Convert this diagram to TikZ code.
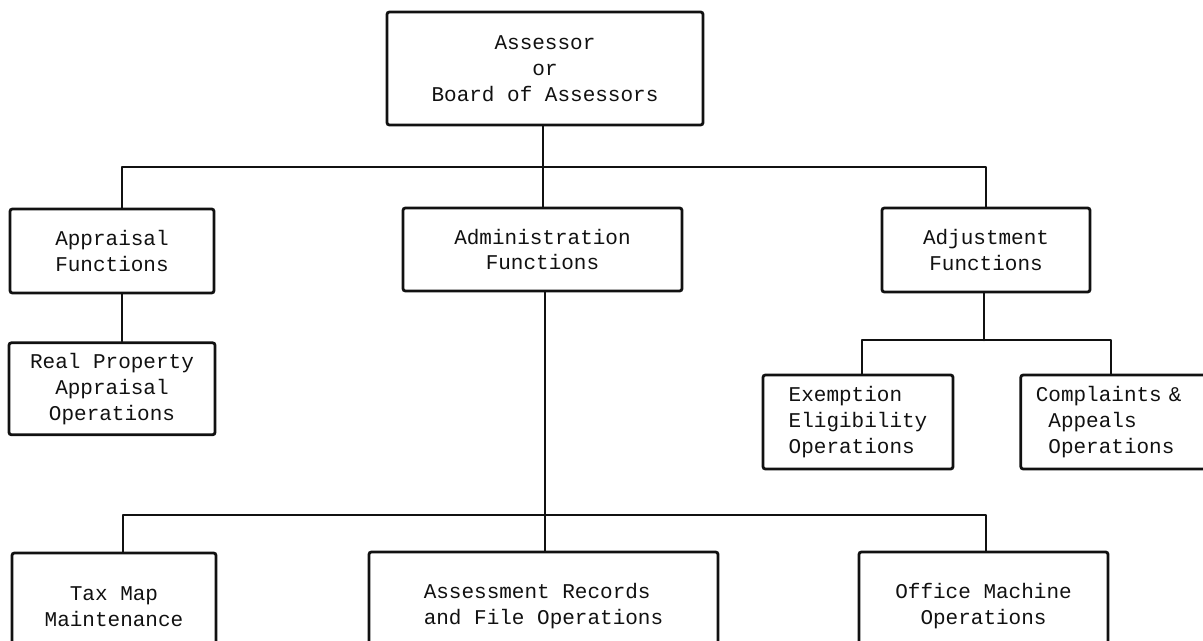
\documentclass[tikz,border=0pt]{standalone}
\usepackage{fontspec}
\usepackage{tikz}
\usetikzlibrary{positioning}
\newfontfamily\chartmono{Liberation Mono}
\definecolor{ChartInk}{HTML}{111111}
\tikzset{
  link/.style={line width=1.3pt,draw=ChartInk,line cap=round,line join=round},
  unitbox/.style={draw=ChartInk,line width=1.4pt,rounded corners=1.2pt,
    align=center,inner sep=0pt,text=ChartInk,
    font={\chartmono\fontsize{10.5}{12.9}\selectfont}}
}
\begin{document}
\begin{tikzpicture}[x=0.5pt,y=-0.5pt,node distance=10pt]
  \useasboundingbox (0,0) rectangle (1203,641);

  \node[unitbox,minimum width=158pt,minimum height=56.5pt] (board) at (545,68.5) {Assessor\\or\\Board of Assessors};

  \node[unitbox,minimum width=102pt,minimum height=42pt] (apprais) at (112,251) {Appraisal\\Functions};
  \node[unitbox,minimum width=139.5pt,minimum height=41.5pt] (admin) at (542.5,249.5) {Administration\\Functions};
  \node[unitbox,minimum width=104pt,minimum height=42pt] (adjust) at (986,250) {Adjustment\\Functions};

  \node[unitbox,minimum width=103pt,minimum height=46pt,below=23.5pt of apprais] (realprop) {Real Property\\Appraisal\\Operations};
  \node[unitbox,minimum width=95pt,minimum height=47pt,align=left] (exempt) at (858,422) {Exemption\\Eligibility\\Operations};
  \node[unitbox,minimum width=130pt,minimum height=47pt,text width=115pt,align=left,right=32.5pt of exempt] (complain) {Complaints \&\\\hspace*{0.6em}Appeals\\\hspace*{0.6em}Operations};

  \node[unitbox,minimum width=102pt,minimum height=53.5pt] (taxmap) at (114,606.5) {Tax Map\\Maintenance};
  \node[unitbox,minimum width=174.5pt,minimum height=54pt,align=left] (records) at (543.5,606) {Assessment Records\\and File Operations};
  \node[unitbox,minimum width=124.5pt,minimum height=54pt] (office) at (983.5,606) {Office Machine\\Operations};

  % bus lines
  \coordinate (topbus) at (543,167);
  \coordinate (adjbus) at (984,340);
  \coordinate (adminbus) at (545,515);

  \draw[link] (board.south -| topbus) -- (topbus) -- (topbus |- admin.north);
  \draw[link] ([xshift=5pt]apprais.north) |- (topbus) -| (adjust.north);
  \draw[link] ([xshift=5pt]apprais.south) -- ([xshift=5pt]apprais.south |- realprop.north);

  \draw[link] (adjust.south -| adjbus) -- (adjbus);
  \draw[link] ([xshift=2pt]exempt.north) |- (adjbus) -| ([xshift=-20pt]complain.north);

  \draw[link] (admin.south -| adminbus) -- (adminbus) -- (adminbus |- records.north);
  \draw[link] ([xshift=4.5pt]taxmap.north) |- (adminbus) -| ([xshift=1.25pt]office.north);
\end{tikzpicture}
\end{document}
